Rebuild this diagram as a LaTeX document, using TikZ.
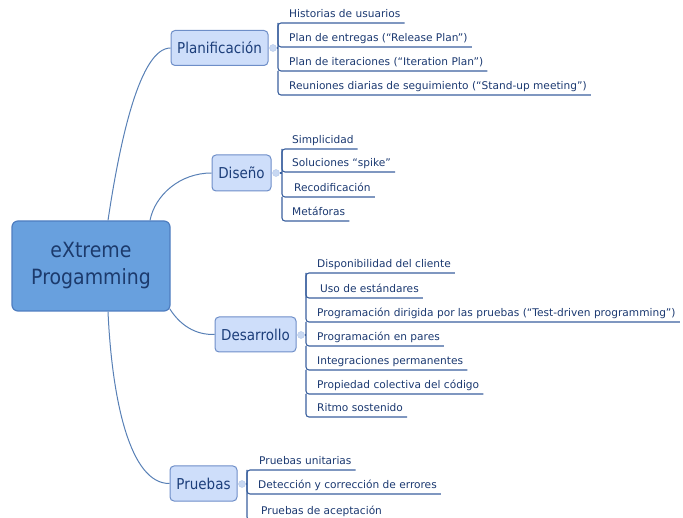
\documentclass[tikz,border=0pt]{standalone}
\usepackage{fontspec}
\setmainfont{DejaVu Sans}[FakeStretch=0.9]
\newfontfamily\leaffont{DejaVu Sans}
\usetikzlibrary{calc}
\definecolor{rootfill}{RGB}{104,160,222}
\definecolor{rootdraw}{RGB}{78,125,192}
\definecolor{roottext}{RGB}{28,58,108}
\definecolor{subfill}{RGB}{206,222,250}
\definecolor{subdraw}{RGB}{110,142,200}
\definecolor{subtext}{RGB}{28,62,122}
\definecolor{leaftext}{RGB}{26,56,112}
\definecolor{linec}{RGB}{58,96,158}
\definecolor{curvec}{RGB}{88,128,182}
\definecolor{dotfill}{RGB}{200,216,242}
\tikzset{
  rootbox/.style={draw=rootdraw, line width=1.2pt, fill=rootfill, rounded corners=6pt,
    minimum width=158pt, minimum height=90pt, align=center, text=roottext,
    font=\fontsize{21}{27}\selectfont, inner sep=0pt},
  subbox/.style={draw=subdraw, line width=1pt, fill=subfill, rounded corners=4pt,
    minimum height=35pt, text=subtext, font=\fontsize{15}{18}\selectfont, inner sep=0pt},
  leaf/.style={anchor=south west, inner xsep=4pt, inner ysep=0pt, text height=8pt,
    text depth=5pt, text=leaftext, font=\leaffont\fontsize{10.6}{12}\selectfont},
  dotc/.style={circle, fill=dotfill, draw=dotfill!80!subdraw, line width=0.4pt,
    minimum size=7pt, inner sep=0pt},
  curve/.style={draw=curvec, line width=1pt},
  branch/.style={draw=linec, line width=1.1pt, rounded corners=3pt},
}
\begin{document}
\begin{tikzpicture}[x=1pt, y=-1pt]
\useasboundingbox (0,0) rectangle (683,518);

% root and main nodes
\node[rootbox] (root) at (91,266) {eXtreme\\Progamming};
\node[subbox, minimum width=97pt] (plan) at (219.5,48) {Planificación};
\node[subbox, minimum width=59pt, minimum height=36pt] (dis) at (241.5,173) {Diseño};
\node[subbox, minimum width=81pt] (des) at (255.5,334.5) {Desarrollo};
\node[subbox, minimum width=67pt] (pru) at (203.5,483.5) {Pruebas};

% curved connectors
\draw[curve] ($(root.north)+(17,0)$) .. controls (120,140) and (140,48) .. (plan.west);
\draw[curve] ($(root.north)+(59,0)$) .. controls (155,195) and (180,173) .. (dis.west);
\draw[curve] ($(root.south east)+(-1,-3)$) .. controls (180,325) and (195,335) .. (des.west);
\draw[curve] ($(root.south)+(17,0)$) .. controls (112,400) and (130,484) .. (pru.west);

% small circles
\node[dotc] (planc) at (273,48) {};
\node[dotc] (disc) at (276,173) {};
\node[dotc] (desc) at (301,335) {};
\node[dotc] (pruc) at (242,484) {};

% vertical bracket coordinates
\coordinate (pv) at (278,48);
\coordinate (dv) at (282,173);
\coordinate (ev) at (306,335);
\coordinate (uv) at (247,484);

% Planificacion leaves
\node[leaf] (p1) at (285,23) {Historias de usuarios};
\node[leaf] (p2) at (285,47) {Plan de entregas (“Release Plan”)};
\node[leaf] (p3) at (285,71) {Plan de iteraciones (“Iteration Plan”)};
\node[leaf] (p4) at (285,95) {Reuniones diarias de seguimiento (“Stand-up meeting”)};
\draw[branch] (planc.east) -- (pv);
\draw[branch] (pv |- p2.south) |- (p1.south east);
\draw[branch] (pv |- p1.south) |- (p2.south east);
\draw[branch] (pv |- p2.south) |- (p3.south east);
\draw[branch] (pv |- p3.south) |- (p4.south east);

% Diseno leaves
\node[leaf] (d1) at (288,149) {Simplicidad};
\node[leaf] (d2) at (288,172) {Soluciones “spike”};
\node[leaf] (d3) at (290,197) {Recodificación};
\node[leaf] (d4) at (288,221) {Metáforas};
\draw[branch] (disc.east) -- (dv);
\draw[branch] (dv |- d2.south) |- (d1.south east);
\draw[branch] (dv |- d1.south) |- (d2.south east);
\draw[branch] (dv |- d2.south) |- (d3.south east);
\draw[branch] (dv |- d3.south) |- (d4.south east);

% Desarrollo leaves
\node[leaf] (e1) at (313,273) {Disponibilidad del cliente};
\node[leaf] (e2) at (316,298) {Uso de estándares};
\node[leaf] (e3) at (313,322) {Programación dirigida por las pruebas (“Test-driven programming”)};
\node[leaf] (e4) at (313,346) {Programación en pares};
\node[leaf] (e5) at (313,370) {Integraciones permanentes};
\node[leaf] (e6) at (313,394) {Propiedad colectiva del código};
\node[leaf] (e7) at (313,417) {Ritmo sostenido};
\draw[branch] (desc.east) -- (ev);
\draw[branch] (ev |- e2.south) |- (e1.south east);
\draw[branch] (ev |- e1.south) |- (e2.south east);
\draw[branch] (ev |- e2.south) |- (e3.south east);
\draw[branch] (ev |- e3.south) |- (e4.south east);
\draw[branch] (ev |- e4.south) |- (e5.south east);
\draw[branch] (ev |- e5.south) |- (e6.south east);
\draw[branch] (ev |- e6.south) |- (e7.south east);

% Pruebas leaves
\node[leaf] (u1) at (255,470) {Pruebas unitarias};
\node[leaf] (u2) at (254,494) {Detección y corrección de errores};
\node[leaf] (u3) at (257,520) {Pruebas de aceptación};
\draw[branch] (pruc.east) -- (uv);
\draw[branch] (uv |- u2.south) |- (u1.south east);
\draw[branch] (uv |- u1.south) |- (u2.south east);
\draw[branch] (uv |- u2.south) |- (u3.south east);
\end{tikzpicture}
\end{document}
